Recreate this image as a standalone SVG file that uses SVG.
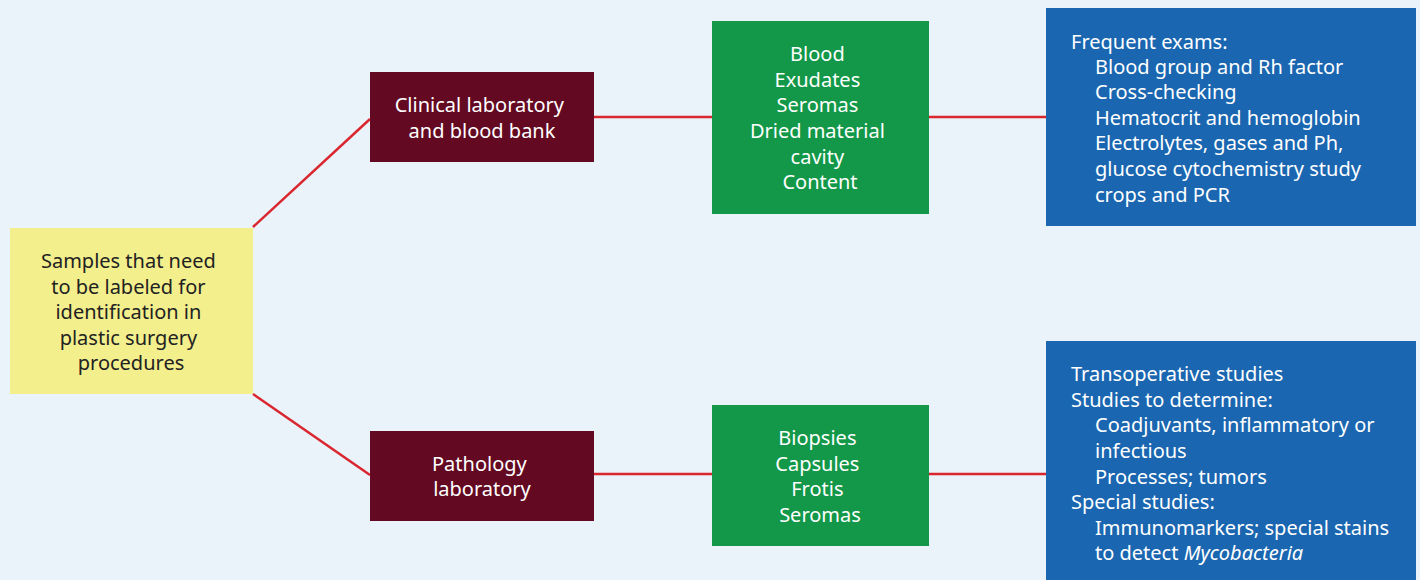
<svg xmlns="http://www.w3.org/2000/svg" width="1420" height="580" viewBox="0 0 1420 580">
  <style>
    text { font-family: "Noto Sans", "Open Sans", sans-serif; font-size: 20px; }
    .c { text-anchor: middle; }
    .w { fill: #ffffff; }
    .d { fill: #222222; }
    .link { stroke: #d9262f; stroke-width: 2.5; fill: none; }
  </style>
  <rect x="0" y="0" width="1420" height="580" fill="#eaf3fa"/>

  <g id="connectors">
    <line class="link" x1="253" y1="227" x2="370" y2="119"/>
    <line class="link" x1="253" y1="394" x2="370" y2="475"/>
    <line class="link" x1="594" y1="117" x2="712" y2="117"/>
    <line class="link" x1="929" y1="117" x2="1046" y2="117"/>
    <line class="link" x1="594" y1="474" x2="712" y2="474"/>
    <line class="link" x1="929" y1="474" x2="1046" y2="474"/>
  </g>

  <g id="samples">
    <rect x="10" y="228" width="243" height="166" fill="#f3ef8d"/>
    <text class="c d" x="131">
      <tspan x="131" y="268">Samples that need</tspan>
      <tspan x="131" y="294">to be labeled for</tspan>
      <tspan x="131" y="319">identification in</tspan>
      <tspan x="131" y="345">plastic surgery</tspan>
      <tspan x="131" y="370">procedures</tspan>
    </text>
  </g>

  <g id="clinical-lab">
    <rect x="370" y="72" width="224" height="90" fill="#630a22"/>
    <text class="c w">
      <tspan x="482" y="112">Clinical laboratory</tspan>
      <tspan x="482" y="138">and blood bank</tspan>
    </text>
  </g>

  <g id="pathology-lab">
    <rect x="370" y="431" width="224" height="90" fill="#630a22"/>
    <text class="c w">
      <tspan x="482" y="471">Pathology</tspan>
      <tspan x="482" y="496">laboratory</tspan>
    </text>
  </g>

  <g id="clinical-samples">
    <rect x="712" y="21" width="217" height="193" fill="#129848"/>
    <text class="c w">
      <tspan x="820" y="61">Blood</tspan>
      <tspan x="820" y="87">Exudates</tspan>
      <tspan x="820" y="112">Seromas</tspan>
      <tspan x="820" y="138">Dried material</tspan>
      <tspan x="820" y="164">cavity</tspan>
      <tspan x="820" y="189">Content</tspan>
    </text>
  </g>

  <g id="pathology-samples">
    <rect x="712" y="405" width="217" height="141" fill="#129848"/>
    <text class="c w">
      <tspan x="820" y="445">Biopsies</tspan>
      <tspan x="820" y="471">Capsules</tspan>
      <tspan x="820" y="496">Frotis</tspan>
      <tspan x="820" y="522">Seromas</tspan>
    </text>
  </g>

  <g id="clinical-exams">
    <rect x="1046" y="8" width="370" height="218" fill="#1a66b0"/>
    <text class="w">
      <tspan x="1071" y="49">Frequent exams:</tspan>
      <tspan x="1095" y="74">Blood group and Rh factor</tspan>
      <tspan x="1095" y="99">Cross-checking</tspan>
      <tspan x="1095" y="125">Hematocrit and hemoglobin</tspan>
      <tspan x="1095" y="150">Electrolytes, gases and Ph,</tspan>
      <tspan x="1095" y="176">glucose cytochemistry study</tspan>
      <tspan x="1095" y="202">crops and PCR</tspan>
    </text>
  </g>

  <g id="pathology-studies">
    <rect x="1046" y="341" width="370" height="239" fill="#1a66b0"/>
    <text class="w">
      <tspan x="1071" y="381">Transoperative studies</tspan>
      <tspan x="1071" y="407">Studies to determine:</tspan>
      <tspan x="1095" y="432">Coadjuvants, inflammatory or</tspan>
      <tspan x="1095" y="458">infectious</tspan>
      <tspan x="1095" y="484">Processes; tumors</tspan>
      <tspan x="1071" y="509">Special studies:</tspan>
      <tspan x="1095" y="535">Immunomarkers; special stains</tspan>
      <tspan x="1095" y="560">to detect <tspan font-style="italic">Mycobacteria</tspan></tspan>
    </text>
  </g>
</svg>
